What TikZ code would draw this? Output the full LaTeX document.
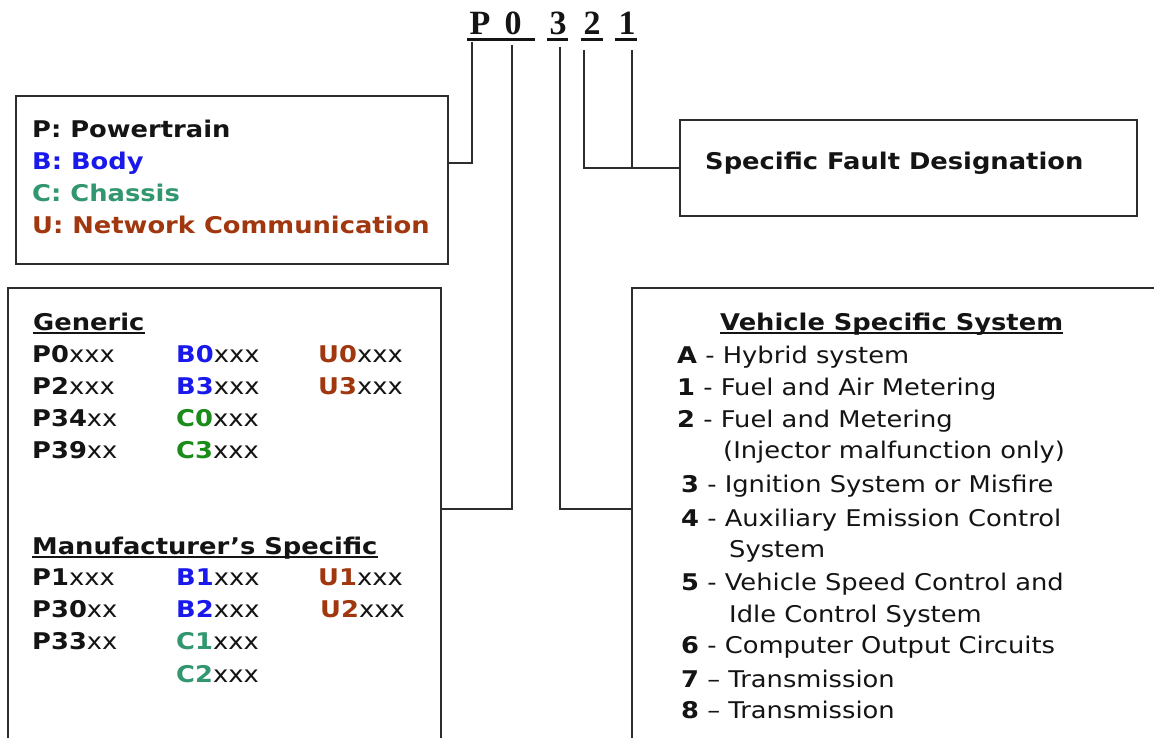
\documentclass[tikz,border=0pt]{standalone}
\usepackage{fontspec}
\setmainfont{DejaVu Sans}[FakeStretch=1.12]
\newfontfamily\hdrfont{Liberation Serif}
\definecolor{linec}{RGB}{45,45,45}
\definecolor{ink}{RGB}{20,20,20}
\definecolor{bodyblue}{RGB}{25,25,235}
\definecolor{chteal}{RGB}{50,150,110}
\definecolor{chgreen}{RGB}{25,140,25}
\definecolor{netbrown}{RGB}{160,55,15}
\begin{document}
\begin{tikzpicture}[x=1pt,y=-1pt,
  txt/.style={anchor=base west, inner sep=0pt, text=ink, font=\fontsize{23}{27}\selectfont},
  btxt/.style={txt, font=\bfseries\fontsize{23}{27}\selectfont},
  hdr/.style={anchor=base, inner sep=0pt, text=ink, font=\hdrfont\bfseries\fontsize{34}{40}\selectfont},
  bx/.style={draw=linec, line width=2pt, anchor=north west, inner sep=0pt},
  conn/.style={draw=linec, line width=2pt},
  uline/.style={draw=ink, line width=2pt},
  hline/.style={draw=ink, line width=3pt}]
\useasboundingbox (0,0) rectangle (1154,738);
\clip (0,0) rectangle (1154,738);
\fill[white] (0,0) rectangle (1154,738);

% header code
\node[hdr] (hP) at (480,35) {P};
\node[hdr] (h0) at (513,35) {0};
\node[hdr] (h3) at (558,35) {3};
\node[hdr] (h2) at (592,35) {2};
\node[hdr] (h1) at (627,35) {1};
\draw[hline] (467,40) -- (535,40);
\draw[hline] (547,40) -- (568,40);
\draw[hline] (581,40) -- (603,40);
\draw[hline] (615,40) -- (637,40);

% boxes
\node[bx, minimum width=432pt, minimum height=168pt] (types) at (15,95) {};
\node[bx, minimum width=433pt, minimum height=500pt] (codes) at (7,287) {};
\node[bx, minimum width=600pt, minimum height=500pt] (vss) at (631,287) {};
\node[bx, minimum width=457pt, minimum height=96pt] (fault) at (679,119) {};

% connectors
\coordinate (cP) at (472,42);
\coordinate (c0) at (512,45);
\coordinate (c3) at (560,47);
\coordinate (c2) at (584,50);
\coordinate (c1) at (632,50);
\coordinate (jP) at (447,163);
\coordinate (j0) at (440,509);
\coordinate (j3) at (631,509);
\draw[conn] (cP) |- (jP);
\draw[conn] (c0) |- (j0);
\draw[conn] (c3) |- (j3);
\draw[conn] (c2) |- (fault.west);
\draw[conn] (c1) -- (c1 |- fault.west);

% fault box text
\node[btxt] (tf) at (705,170) {Specific Fault Designation};

% type box text
\node[btxt] (tP) at (32,138) {P: Powertrain};
\node[btxt, text=bodyblue] (tB) at (32,170) {B: Body};
\node[btxt, text=chteal] (tC) at (32,202) {C: Chassis};
\node[btxt, text=netbrown] (tU) at (32,234) {U: Network Communication};

% codes box
\node[btxt] (gen) at (33,330) {Generic};
\draw[uline] ([yshift=-3pt]gen.base west) -- ([yshift=-3pt]gen.base east);
\node[txt] (g1) at (32,362) {\textbf{P0}xxx};
\node[txt] (g2) at (32,394) {\textbf{P2}xxx};
\node[txt] (g3) at (32,426) {\textbf{P34}xx};
\node[txt] (g4) at (32,458) {\textbf{P39}xx};
\node[txt] (g5) at (176,362) {\textbf{\color{bodyblue}B0}xxx};
\node[txt] (g6) at (176,394) {\textbf{\color{bodyblue}B3}xxx};
\node[txt] (g7) at (176,426) {\textbf{\color{chgreen}C0}xxx};
\node[txt] (g8) at (176,458) {\textbf{\color{chgreen}C3}xxx};
\node[txt] (g9) at (318,362) {\textbf{\color{netbrown}U0}xxx};
\node[txt] (g10) at (318,394) {\textbf{\color{netbrown}U3}xxx};

\node[btxt] (man) at (32,554) {Manufacturer’s Specific};
\draw[uline] ([yshift=-3pt]man.base west) -- ([yshift=-3pt]man.base east);
\node[txt] (m1) at (32,585) {\textbf{P1}xxx};
\node[txt] (m2) at (32,617) {\textbf{P30}xx};
\node[txt] (m3) at (32,649) {\textbf{P33}xx};
\node[txt] (m4) at (176,585) {\textbf{\color{bodyblue}B1}xxx};
\node[txt] (m5) at (176,617) {\textbf{\color{bodyblue}B2}xxx};
\node[txt] (m6) at (176,649) {\textbf{\color{chteal}C1}xxx};
\node[txt] (m7) at (176,682) {\textbf{\color{chteal}C2}xxx};
\node[txt] (m8) at (318,585) {\textbf{\color{netbrown}U1}xxx};
\node[txt] (m9) at (320,617) {\textbf{\color{netbrown}U2}xxx};

% vehicle specific system
\node[btxt] (vh) at (720,330) {Vehicle Specific System};
\draw[uline] ([yshift=-3pt]vh.base west) -- ([yshift=-3pt]vh.base east);
\node[txt] (v1) at (677,363) {\textbf{A} - Hybrid system};
\node[txt] (v2) at (677,395) {\textbf{1} - Fuel and Air Metering};
\node[txt] (v3) at (677,427) {\textbf{2} - Fuel and Metering};
\node[txt] (v3b) at (723,458) {(Injector malfunction only)};
\node[txt] (v4) at (681,492) {\textbf{3} - Ignition System or Misfire};
\node[txt] (v5) at (681,526) {\textbf{4} - Auxiliary Emission Control};
\node[txt] (v5b) at (729,557) {System};
\node[txt] (v6) at (681,590) {\textbf{5} - Vehicle Speed Control and};
\node[txt] (v6b) at (729,622) {Idle Control System};
\node[txt] (v7) at (681,653) {\textbf{6} - Computer Output Circuits};
\node[txt] (v8) at (681,687) {\textbf{7} – Transmission};
\node[txt] (v9) at (681,718) {\textbf{8} – Transmission};
\end{tikzpicture}
\end{document}
